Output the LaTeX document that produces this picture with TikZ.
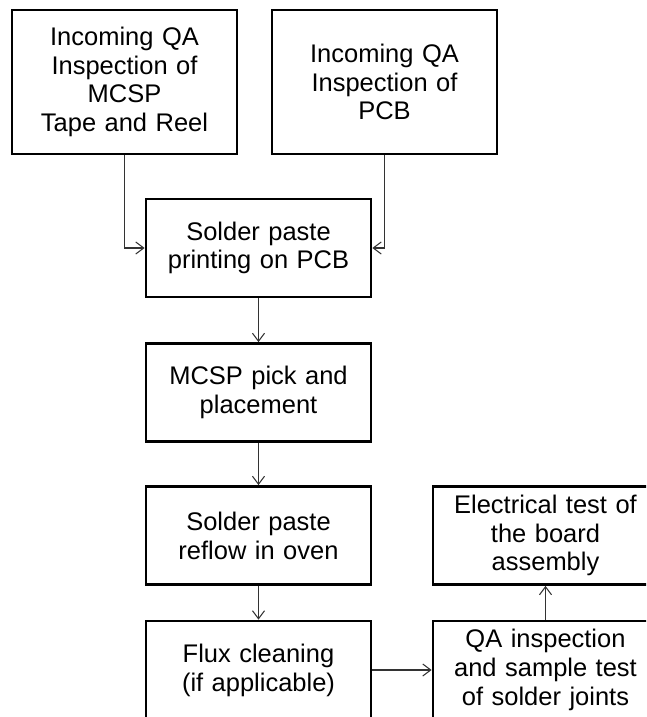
\documentclass[tikz,border=0pt]{standalone}
\usepackage{fontspec}
\setmainfont{Liberation Sans}
\usepackage{tikz}
\usetikzlibrary{positioning, arrows.meta}

\begin{document}
\begin{tikzpicture}[x=0.02cm, y=-0.02cm,
  box/.style={draw, line width=1.6pt, align=center, text width=4.2cm,
    inner sep=0.15cm, minimum height=1.96cm,
    font=\fontsize{14.5pt}{16.4pt}\selectfont},
  link/.style={draw=black!80, line width=0.6pt,
    -{Straight Barb[length=1.6mm, width=2.4mm]}}]
% Frame
\useasboundingbox (0,0) rectangle (646,717);
\clip (0,0) rectangle (646,717);
% Incoming inspection
\node[box, minimum height=2.88cm] (mcsp) at (124.5,82) {Incoming QA\\ Inspection of\\ MCSP\\ Tape and Reel};
\node[box, minimum height=2.88cm] (pcb) at (384.5,82) {Incoming QA\\ Inspection of\\ PCB};
% Main line
\node[box] (print) at (258.5,248) {Solder paste\\ printing on PCB};
\node[box] (place) at (258.5,392.5) {MCSP pick and\\ placement};
\node[box] (reflow) at (258.5,535.5) {Solder paste\\ reflow in oven};
\node[box] (flux) at (258.5,670) {Flux cleaning\\ (if applicable)};
% Tests
\node[box] (qa) at (545.5,670) {QA inspection\\ and sample test\\ of solder joints};
\node[box] (elec) at (545.5,535.5) {Electrical test of\\ the board\\ assembly};
% Connectors
\draw[link] (mcsp) |- (print);
\draw[link] (pcb) |- (print);
\draw[link] (print) -- (place);
\draw[link] (place) -- (reflow);
\draw[link] (reflow) -- (flux);
\draw[link] (flux) -- (qa);
\draw[link] (qa) -- (elec);
\end{tikzpicture}
\end{document}
